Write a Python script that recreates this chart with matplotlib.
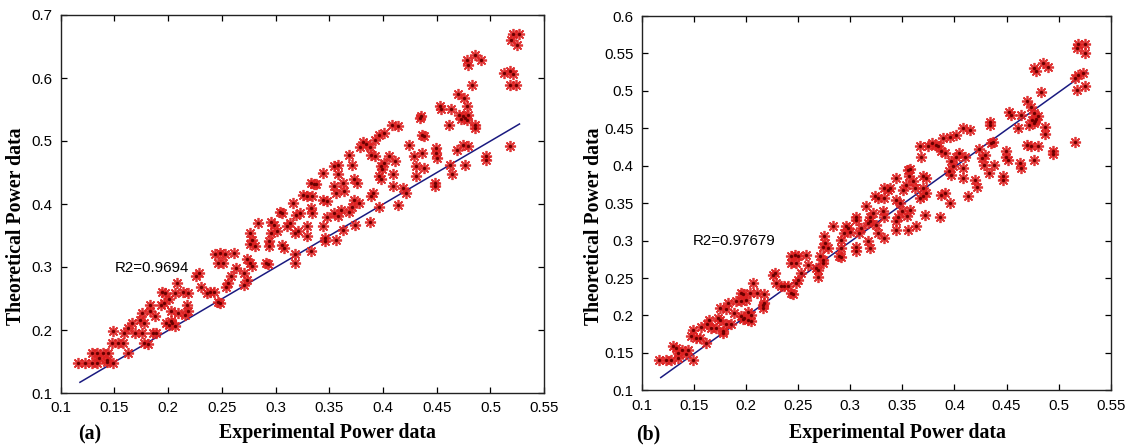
import matplotlib
matplotlib.use("Agg")
import matplotlib.pyplot as plt
import numpy as np

# ---------------- data (a) ----------------
xa = [0.521,0.527,0.519,0.525,0.513,0.518,0.521,0.518,0.524,0.518,0.496,0.496,0.478,0.479,0.486,0.491,0.483,0.470,0.475,0.478,0.471,0.474,0.476,0.479,0.478,0.473,0.486,0.486,0.461,0.453,0.454,0.463,0.434,0.435,0.438,0.436,0.424,0.449,0.449,0.450,0.469,0.474,0.479,0.476,0.462,0.464,0.448,0.448,0.429,0.436,0.431,0.438,0.431,0.419,0.421,0.414,0.409,0.409,0.411,0.406,0.408,0.414,0.396,0.401,0.393,0.388,0.379,0.381,0.384,0.368,0.371,0.389,0.393,0.398,0.399,0.401,0.396,0.398,0.391,0.389,0.396,0.388,0.373,0.378,0.368,0.371,0.374,0.363,0.356,0.346,0.346,0.354,0.358,0.358,0.363,0.364,0.356,0.354,0.373,0.376,0.344,0.344,0.348,0.354,0.361,0.358,0.344,0.348,0.333,0.336,0.338,0.326,0.329,0.334,0.316,0.323,0.319,0.333,0.334,0.329,0.329,0.333,0.318,0.318,0.318,0.321,0.304,0.306,0.313,0.311,0.296,0.299,0.301,0.296,0.306,0.308,0.294,0.294,0.291,0.293,0.284,0.276,0.278,0.276,0.281,0.273,0.276,0.278,0.271,0.273,0.271,0.263,0.259,0.256,0.254,0.244,0.248,0.253,0.261,0.246,0.251,0.226,0.229,0.231,0.236,0.239,0.243,0.246,0.248,0.208,0.206,0.214,0.219,0.194,0.197,0.196,0.201,0.218,0.219,0.216,0.203,0.209,0.183,0.193,0.176,0.183,0.188,0.174,0.178,0.198,0.203,0.201,0.204,0.206,0.186,0.189,0.166,0.163,0.159,0.169,0.176,0.149,0.148,0.153,0.158,0.178,0.181,0.163,0.129,0.134,0.139,0.144,0.136,0.143,0.116,0.123,0.129,0.134,0.143,0.149]
ya = [0.670,0.670,0.660,0.653,0.608,0.611,0.607,0.589,0.589,0.492,0.476,0.470,0.629,0.621,0.637,0.629,0.589,0.574,0.568,0.555,0.542,0.539,0.536,0.542,0.533,0.535,0.526,0.521,0.526,0.555,0.550,0.550,0.537,0.540,0.508,0.510,0.494,0.489,0.481,0.473,0.486,0.494,0.492,0.462,0.462,0.447,0.433,0.428,0.476,0.481,0.460,0.457,0.444,0.425,0.417,0.399,0.447,0.428,0.468,0.476,0.526,0.524,0.510,0.513,0.502,0.491,0.491,0.499,0.495,0.478,0.462,0.478,0.476,0.460,0.455,0.465,0.444,0.439,0.417,0.412,0.396,0.372,0.407,0.402,0.388,0.396,0.367,0.359,0.343,0.346,0.341,0.460,0.462,0.447,0.433,0.420,0.417,0.428,0.439,0.433,0.449,0.407,0.404,0.386,0.391,0.381,0.365,0.380,0.433,0.431,0.431,0.415,0.412,0.412,0.402,0.386,0.383,0.394,0.386,0.365,0.349,0.325,0.320,0.306,0.354,0.357,0.388,0.386,0.370,0.365,0.372,0.367,0.357,0.354,0.335,0.330,0.341,0.333,0.306,0.304,0.370,0.354,0.343,0.336,0.333,0.312,0.306,0.301,0.290,0.280,0.272,0.298,0.285,0.275,0.269,0.320,0.322,0.320,0.322,0.306,0.306,0.285,0.290,0.269,0.259,0.261,0.261,0.245,0.243,0.275,0.259,0.261,0.259,0.261,0.259,0.243,0.249,0.240,0.230,0.224,0.230,0.227,0.240,0.240,0.227,0.230,0.222,0.216,0.211,0.211,0.214,0.208,0.211,0.206,0.195,0.195,0.211,0.203,0.195,0.195,0.195,0.198,0.179,0.179,0.179,0.179,0.177,0.163,0.163,0.163,0.163,0.163,0.155,0.153,0.148,0.148,0.148,0.148,0.150,0.148]

# ---------------- data (b) ----------------
xb = [0.519,0.525,0.518,0.525,0.516,0.519,0.523,0.518,0.525,0.516,0.495,0.495,0.476,0.478,0.485,0.490,0.483,0.470,0.473,0.476,0.474,0.476,0.478,0.480,0.472,0.477,0.487,0.487,0.461,0.452,0.454,0.464,0.434,0.434,0.437,0.435,0.424,0.449,0.449,0.451,0.470,0.473,0.480,0.476,0.463,0.464,0.447,0.447,0.426,0.429,0.428,0.438,0.433,0.420,0.422,0.413,0.408,0.408,0.410,0.404,0.408,0.415,0.396,0.401,0.389,0.384,0.375,0.378,0.382,0.367,0.368,0.387,0.391,0.397,0.399,0.401,0.395,0.397,0.391,0.387,0.396,0.386,0.370,0.373,0.367,0.370,0.372,0.363,0.355,0.344,0.355,0.357,0.356,0.360,0.362,0.351,0.353,0.370,0.373,0.344,0.344,0.348,0.350,0.357,0.354,0.344,0.346,0.332,0.336,0.338,0.324,0.327,0.332,0.315,0.322,0.319,0.331,0.332,0.325,0.327,0.332,0.317,0.319,0.317,0.319,0.305,0.305,0.310,0.308,0.296,0.298,0.300,0.294,0.305,0.305,0.291,0.291,0.289,0.291,0.283,0.275,0.276,0.274,0.279,0.271,0.274,0.274,0.267,0.269,0.269,0.259,0.253,0.250,0.248,0.243,0.247,0.250,0.257,0.243,0.248,0.226,0.228,0.229,0.233,0.236,0.240,0.243,0.245,0.207,0.204,0.210,0.217,0.195,0.197,0.195,0.200,0.216,0.217,0.216,0.202,0.205,0.183,0.190,0.175,0.181,0.188,0.173,0.175,0.195,0.198,0.197,0.202,0.205,0.181,0.185,0.164,0.162,0.157,0.166,0.171,0.149,0.147,0.152,0.156,0.178,0.178,0.161,0.130,0.133,0.138,0.144,0.135,0.142,0.116,0.123,0.128,0.135,0.149]
yb = [0.563,0.563,0.557,0.550,0.517,0.521,0.524,0.501,0.506,0.432,0.419,0.415,0.530,0.526,0.537,0.532,0.499,0.486,0.479,0.470,0.461,0.457,0.463,0.466,0.455,0.460,0.452,0.443,0.450,0.472,0.468,0.468,0.459,0.455,0.432,0.430,0.423,0.419,0.412,0.408,0.428,0.426,0.426,0.408,0.403,0.397,0.386,0.381,0.410,0.414,0.401,0.401,0.390,0.381,0.372,0.359,0.397,0.383,0.412,0.417,0.450,0.448,0.439,0.441,0.437,0.426,0.426,0.430,0.428,0.426,0.412,0.419,0.417,0.406,0.399,0.412,0.393,0.387,0.363,0.361,0.350,0.332,0.370,0.363,0.357,0.359,0.334,0.319,0.314,0.314,0.394,0.396,0.386,0.379,0.370,0.368,0.374,0.386,0.384,0.383,0.354,0.350,0.339,0.341,0.333,0.326,0.332,0.370,0.368,0.370,0.359,0.357,0.357,0.346,0.337,0.332,0.339,0.332,0.321,0.310,0.303,0.299,0.290,0.323,0.326,0.332,0.328,0.317,0.310,0.320,0.317,0.312,0.310,0.292,0.286,0.301,0.290,0.279,0.278,0.320,0.306,0.297,0.292,0.290,0.279,0.274,0.270,0.263,0.261,0.252,0.268,0.257,0.248,0.243,0.279,0.281,0.279,0.281,0.270,0.270,0.254,0.257,0.243,0.239,0.239,0.239,0.230,0.228,0.243,0.230,0.230,0.228,0.230,0.228,0.219,0.221,0.214,0.217,0.210,0.205,0.201,0.217,0.219,0.210,0.208,0.203,0.197,0.194,0.199,0.197,0.195,0.194,0.192,0.188,0.188,0.194,0.188,0.185,0.183,0.183,0.181,0.172,0.170,0.170,0.179,0.177,0.163,0.159,0.157,0.154,0.154,0.150,0.148,0.141,0.141,0.141,0.143,0.141]

# fitted lines
fit_x = [0.118, 0.527]
fit_ya = [0.117, 0.527]
fit_yb = [0.117, 0.525]

r2_a = "R2=0.9694"
r2_b = "R2=0.97679"
xticks = [0.1, 0.15, 0.2, 0.25, 0.3, 0.35, 0.4, 0.45, 0.5, 0.55]
xtick_labels = ["0.1", "0.15", "0.2", "0.25", "0.3", "0.35", "0.4", "0.45", "0.5", "0.55"]
yticks_a = [0.1, 0.2, 0.3, 0.4, 0.5, 0.6, 0.7]
ytick_labels_a = ["0.1", "0.2", "0.3", "0.4", "0.5", "0.6", "0.7"]
yticks_b = [0.1, 0.15, 0.2, 0.25, 0.3, 0.35, 0.4, 0.45, 0.5, 0.55, 0.6]
ytick_labels_b = ["0.1", "0.15", "0.2", "0.25", "0.3", "0.35", "0.4", "0.45", "0.5", "0.55", "0.6"]

xlabel = "Experimental Power data"
ylabel = "Theoretical Power data"

W, H = 1133, 448
fig = plt.figure(figsize=(W / 100, H / 100), dpi=100)
fig.patch.set_facecolor("white")

ax_a = fig.add_axes([60.6 / W, (H - 393) / H, 483.6 / W, 378 / H])
ax_b = fig.add_axes([642 / W, (H - 390.3) / H, 468.7 / W, 374.3 / H])

tick_font = dict(family="Liberation Sans", size=10.8)
label_font = dict(family="Liberation Serif", size=14.3, weight="bold")


def draw(ax, x, y, fy, yt, ytl, ylim, r2, r2pos):
    ax.plot(fit_x, fy, color="#1a1a80", lw=1.1, zorder=3)
    ax.plot(x, y, ls="none", marker=(8, 2, 0), ms=8, mew=1.25,
            color="#dd2020", alpha=0.9, zorder=4)
    ax.plot(x, y, ls="none", marker="o", ms=2.4, mew=0,
            color="#6a0000", zorder=5)
    ax.set_xlim(0.1, 0.55)
    ax.set_ylim(*ylim)
    ax.set_xticks(xticks)
    ax.set_xticklabels(xtick_labels, **tick_font)
    ax.set_yticks(yt)
    ax.set_yticklabels(ytl, **tick_font)
    ax.tick_params(direction="in", top=True, right=True, length=4,
                   width=0.9, pad=6, colors="black")
    for s in ax.spines.values():
        s.set_linewidth(1.0)
        s.set_color("#222222")
    ax.text(r2pos[0], r2pos[1], r2, family="Liberation Sans", size=10.8,
            ha="left", va="center", zorder=6)


draw(ax_a, xa, ya, fit_ya, yticks_a, ytick_labels_a, (0.1, 0.7), r2_a, (0.150, 0.298))
draw(ax_b, xb, yb, fit_yb, yticks_b, ytick_labels_b, (0.1, 0.6), r2_b, (0.149, 0.299))

# axis labels placed in figure pixels
fig.text(327 / W, 1 - 433 / H, xlabel, ha="center", va="center", **label_font)
fig.text(897 / W, 1 - 433 / H, xlabel, ha="center", va="center", **label_font)
fig.text(16 / W, 1 - 226 / H, ylabel, ha="center", va="center", rotation=90, **label_font)
fig.text(594 / W, 1 - 226 / H, ylabel, ha="center", va="center", rotation=90, **label_font)
fig.text(90 / W, 1 - 434 / H, "(a)", ha="center", va="center", **label_font)
fig.text(648 / W, 1 - 434 / H, "(b)", ha="center", va="center", **label_font)

fig.savefig("out.png", dpi=100, facecolor="white")
